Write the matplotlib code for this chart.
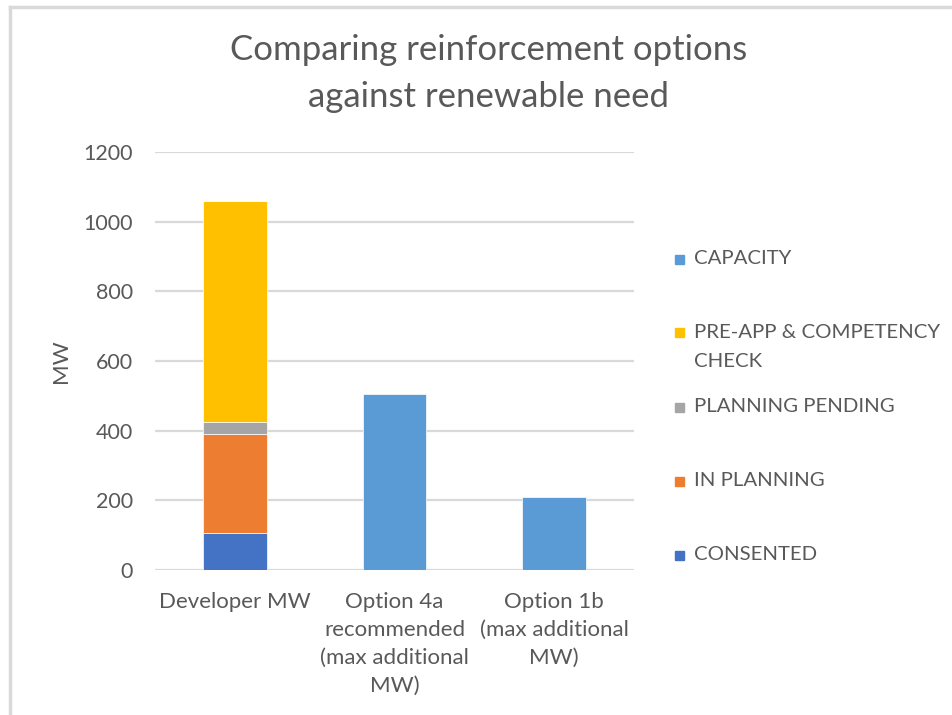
import matplotlib.pyplot as plt
from matplotlib.patches import Rectangle
from matplotlib.lines import Line2D
import numpy as np

plt.rcParams['font.family'] = ['Lato', 'DejaVu Sans']

categories = ["Developer MW",
              "Option 4a\nrecommended\n(max additional\nMW)",
              "Option 1b\n(max additional\nMW)"]

# stacked series, bottom to top
consented = [105, 0, 0]
in_planning = [285, 0, 0]
planning_pending = [35, 0, 0]
pre_app = [635, 0, 0]
capacity = [0, 505, 210]

series_names = ["CONSENTED", "IN PLANNING", "PLANNING PENDING",
                "PRE-APP & COMPETENCY\nCHECK", "CAPACITY"]
series_values = [consented, in_planning, planning_pending, pre_app, capacity]
colors = ["#4472C4", "#ED7D31", "#A5A5A5", "#FFC000", "#5B9BD5"]

yticks = [0, 200, 400, 600, 800, 1000, 1200]

text_col = "#595959"
grid_col = "#D9D9D9"

fig = plt.figure(figsize=(9.53, 7.15), dpi=100)
ax = fig.add_axes([155 / 953, 1 - 570 / 715, 479 / 953, 418 / 715])

x = np.arange(len(categories))
bottom = np.zeros(len(categories))
for name, vals, col in zip(series_names, series_values, colors):
    vals = np.array(vals, dtype=float)
    ax.bar(x, vals, 0.4, bottom=bottom, color=col, edgecolor="white",
           linewidth=0.5, zorder=3, label=name)
    bottom += vals

ax.set_xlim(-0.5, 2.5)
ax.set_ylim(0, 1200)
ax.set_yticks(yticks)
ax.set_yticklabels([str(t) for t in yticks])
ax.set_xticks(x)
ax.set_xticklabels(categories, linespacing=1.5)
ax.tick_params(axis="y", length=0, pad=16, labelsize=15.5, labelcolor=text_col)
ax.tick_params(axis="x", length=0, pad=16, labelsize=16, labelcolor=text_col)
ax.yaxis.grid(True, color=grid_col, linewidth=1.6, zorder=0)
for s in ax.spines.values():
    s.set_visible(False)

ax.set_ylabel("MW", fontsize=16, color=text_col, labelpad=9)

title_x = 0.5 * (233 + 745) / 953
fig.text(title_x, 1 - 50 / 715, "Comparing reinforcement options",
         ha="center", va="center", fontsize=25, color=text_col)
fig.text(title_x, 1 - 97 / 715, "against renewable need",
         ha="center", va="center", fontsize=25, color=text_col)

# legend, top entry first like the original
leg_y = [259, 332, 407, 481, 555]
for yy, name, col in zip(leg_y, series_names[::-1], colors[::-1]):
    fig.add_artist(Rectangle((675 / 953, 1 - (yy + 5) / 715), 9 / 953, 9 / 715,
                             transform=fig.transFigure, color=col))
    ty = yy + 15 if "\n" in name else yy
    fig.text(694 / 953, 1 - ty / 715, name, ha="left", va="center",
             fontsize=14.7, color=text_col, linespacing=1.86,
             transform=fig.transFigure)

# chart area border (top and left)
fig.add_artist(Line2D([10 / 953, 1], [1 - 7 / 715, 1 - 7 / 715], color=grid_col,
                      linewidth=2.5, transform=fig.transFigure))
fig.add_artist(Line2D([10 / 953, 10 / 953], [0, 1 - 7 / 715], color=grid_col,
                      linewidth=2.5, transform=fig.transFigure))

fig.savefig("out.png", dpi=100, facecolor="white")
